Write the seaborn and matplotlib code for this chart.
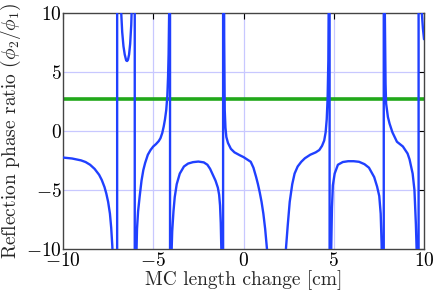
import matplotlib
matplotlib.use("Agg")
import matplotlib.pyplot as plt
import seaborn as sns
import pandas as pd

# ---- data (blue curve, drawn as one connected line;
# the large +/- values are the pole crossings, which show as vertical strokes)
curve_x = [
    -10.0, -9.5, -9.0, -8.75, -8.5, -8.25, -8.0, -7.85, -7.7, -7.6, -7.5, -7.4, -7.33, -7.27,
    -7.2, -7.12, -7.06, -7.01,
    -6.99, -6.92, -6.85, -6.78, -6.72, -6.65, -6.58, -6.5, -6.45, -6.4, -6.34, -6.28, -6.22,
    -6.17, -6.1, -6.05, -6.03,
    -6.02, -5.98, -5.94, -5.9, -5.84, -5.75, -5.65, -5.55, -5.45, -5.3, -5.15, -5.0, -4.85,
    -4.7, -4.6, -4.5, -4.42, -4.35, -4.28, -4.22, -4.18, -4.15, -4.12, -4.09, -4.075,
    -4.065, -4.02, -3.99, -3.95, -3.88, -3.81, -3.7, -3.53, -3.3, -3.07, -2.8, -2.5, -2.2,
    -2.0, -1.85, -1.7, -1.55, -1.42, -1.35, -1.3, -1.26, -1.23, -1.2, -1.16, -1.135,
    -1.125, -1.1, -1.07, -1.04, -1.0, -0.95, -0.86, -0.7, -0.5, -0.2, 0.0, 0.2, 0.4, 0.55,
    0.7, 0.8, 0.9, 1.0, 1.1, 1.2, 1.3, 1.45, 1.6, 1.8, 2.0, 2.2, 2.35, 2.45, 2.56, 2.7,
    2.83, 3.0, 3.2, 3.4, 3.7, 4.0, 4.2, 4.35, 4.47, 4.55, 4.61, 4.66, 4.7, 4.72, 4.74, 4.765,
    4.775, 4.82, 4.86, 4.9, 4.95, 5.05, 5.23, 5.5, 5.8, 6.1, 6.4, 6.7, 6.95, 7.24, 7.4,
    7.52, 7.6, 7.65, 7.69, 7.73, 7.765,
    7.775, 7.8, 7.83, 7.87, 7.9, 8.0, 8.09, 8.25, 8.5, 8.83, 9.09, 9.2, 9.37, 9.47, 9.55,
    9.6, 9.65, 9.68, 9.695,
    9.705, 9.75, 9.82, 9.88, 9.94, 10.0,
]
curve_y = [
    -2.24, -2.32, -2.48, -2.62, -2.85, -3.2, -3.7, -4.15, -4.75, -5.3, -6.0, -7.0, -8.2, -9.7,
    -12.0, -17.0, -40.0, -300.0,
    300.0, 40.0, 15.0, 10.2, 8.4, 7.2, 6.5, 6.0, 5.95, 6.05, 6.5, 7.4, 9.0,
    11.5, 20.0, 60.0, 300.0,
    -300.0, -30.0, -11.0, -8.3, -6.8, -5.5, -4.2, -3.3, -2.7, -2.0, -1.6, -1.3, -1.1,
    -0.85, -0.6, -0.15, 0.4, 1.0, 1.8, 3.0, 4.6, 6.5, 10.0, 20.0, 300.0,
    -300.0, -25.0, -10.5, -8.5, -6.8, -5.6, -4.5, -3.6, -3.0, -2.75, -2.63, -2.58, -2.65,
    -2.85, -3.2, -3.7, -4.2, -4.8, -5.4, -6.3, -7.8, -9.8, -12.0, -25.0, -300.0,
    300.0, 30.0, 8.0, 1.8, 0.3, -0.5, -1.0, -1.5, -1.8, -2.05, -2.2, -2.4, -2.6, -3.1,
    -3.9, -4.5, -5.2, -6.0, -7.0, -8.3, -10.0, -13.0, -16.0, -20.0, -18.0, -13.0, -10.0, -8.0, -6.0, -4.5,
    -3.6, -3.0, -2.6, -2.3, -2.0, -1.8, -1.6, -1.25, -0.8, -0.1, 1.0, 2.8, 6.0, 10.0, 30.0, 300.0,
    -300.0, -20.0, -10.0, -6.5, -4.6, -3.6, -2.85, -2.62, -2.55, -2.55, -2.6, -2.8, -3.1, -3.9, -4.7,
    -5.5, -7.0, -9.5, -13.0, -25.0, -300.0,
    300.0, 30.0, 10.0, 4.0, 2.35, 1.2, 0.65, -0.1, -0.9, -1.3, -1.9, -2.4, -3.6, -5.0, -7.9,
    -10.5, -18.0, -40.0, -300.0,
    300.0, 40.0, 15.0, 10.0, 8.7, 7.8,
]
green_level = [2.7, 2.7]
green_x = [-10.0, 10.0]

x_ticks = [-10, -5, 0, 5, 10]
y_ticks = [-10, -5, 0, 5, 10]
x_label = "MC length change [cm]"
y_label = r"Reflection phase ratio $(\phi_2/\phi_1)$"

# ---- styling
sns.set_style("white")
plt.rcParams.update({
    "font.family": "serif",
    "font.serif": ["cmr10", "DejaVu Serif"],
    "mathtext.fontset": "cm",
    "axes.formatter.use_mathtext": True,
    "axes.unicode_minus": True,
    "font.size": 14,
})

fig = plt.figure(figsize=(4.36, 2.91), dpi=100)
ax = fig.add_axes([0.1445, 0.1443, 0.8280, 0.8100])

df_curve = pd.DataFrame({"x": curve_x, "y": curve_y})
df_green = pd.DataFrame({"x": green_x, "y": green_level})

grid_kw = dict(color="#c8c8ff", lw=0.9, zorder=0.5)
for v in [-5, 0, 5]:
    ax.axvline(v, **grid_kw)
    ax.axhline(v, **grid_kw)

sns.lineplot(data=df_green, x="x", y="y", ax=ax, color="#21a81a", lw=2.6,
             sort=False, estimator=None, zorder=2)
sns.lineplot(data=df_curve, x="x", y="y", ax=ax, color="#2040ff", lw=1.7,
             sort=False, estimator=None, zorder=3)

ax.set_xlim(-10, 10)
ax.set_ylim(-10, 10)
ax.set_xticks(x_ticks)
ax.set_yticks(y_ticks)
ax.set_xticklabels([f"${t}$".replace("-", "-") for t in x_ticks])
ax.set_yticklabels([f"${t}$" for t in y_ticks])
ax.tick_params(direction="in", length=4, width=0.8, top=True, right=True,
               labelsize=14, pad=2, colors="black")
ax.tick_params(axis="y", pad=1)
for s in ax.spines.values():
    s.set_color("#444444")
    s.set_linewidth(1.0)

ax.set_xlabel(x_label, fontsize=14, labelpad=0)
ax.set_ylabel(y_label, fontsize=14, labelpad=2)

fig.savefig("out.png", dpi=100)
